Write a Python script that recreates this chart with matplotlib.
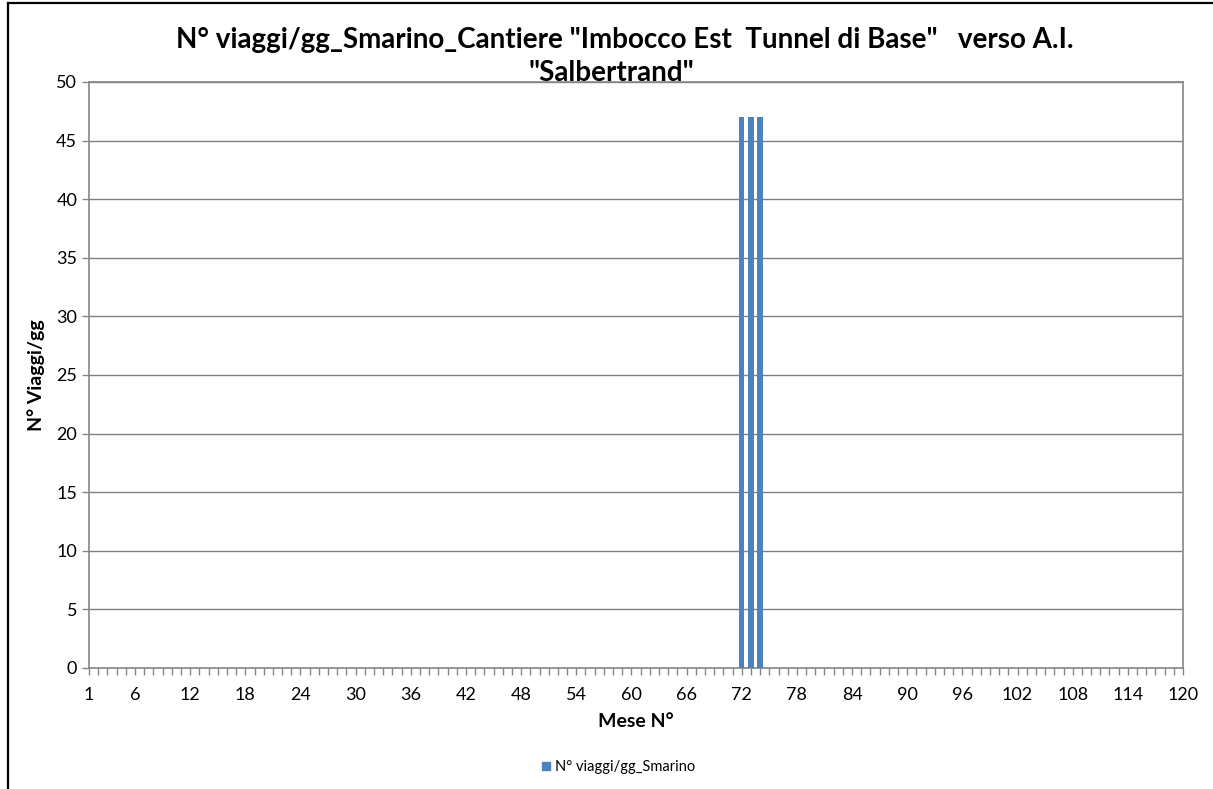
import matplotlib
matplotlib.use("Agg")
import matplotlib.pyplot as plt
from matplotlib.lines import Line2D
import numpy as np

plt.rcParams['font.family'] = ['Lato', 'DejaVu Sans']

months = list(range(1, 121))
values = [0] * 120
for m in (72, 73, 74):
    values[m - 1] = 47
tick_labels = [1] + list(range(6, 121, 6))
series_name = 'N° viaggi/gg_Smarino'
bar_color = '#4F81BD'

fig = plt.figure(figsize=(12.13, 7.89), dpi=100)
ax = fig.add_axes([0.0734, 0.1534, 0.9019, 0.7427])

ax.bar(months, values, width=0.58, color=bar_color, zorder=3)

ax.set_xlim(1, 120)
ax.set_ylim(0, 50)
ax.set_yticks(np.arange(0, 51, 5))
ax.set_xticks(months, minor=True)
ax.set_xticks(tick_labels)
ax.set_xticklabels([str(t) for t in tick_labels], fontsize=13)
ax.tick_params(axis='y', labelsize=13, length=5, color='#868686', width=1)
ax.tick_params(axis='x', which='both', length=5, color='#868686', width=1, pad=9)
ax.grid(axis='y', color='#808080', linewidth=1, zorder=0)

for s in ax.spines.values():
    s.set_color('#868686')
    s.set_linewidth(1.2)

ax.set_xlabel('Mese N°', fontsize=14, fontweight='bold', labelpad=7)
ax.set_ylabel('N° Viaggi/gg', fontsize=14, fontweight='bold', labelpad=8)

fig.text(0.515, 0.949, 'N° viaggi/gg_Smarino_Cantiere "Imbocco Est  Tunnel di Base"   verso A.I.',
         ha='center', va='center', fontsize=20, fontweight='bold')
fig.text(0.504, 0.907, '"Salbertrand"', ha='center', va='center', fontsize=20, fontweight='bold')

handle = Line2D([], [], linestyle='none', marker='s', markersize=6,
                markerfacecolor=bar_color, markeredgecolor=bar_color)
fig.legend(handles=[handle], labels=[series_name], loc='center',
           bbox_to_anchor=(0.51, 0.028), frameon=False, fontsize=10.5,
           handlelength=0.6, handletextpad=0.3)

# outer chart border (left and top visible)
fig.add_artist(Line2D([8/1213, 8/1213], [0, 1 - 3/789], transform=fig.transFigure, color='black', linewidth=1.6))
fig.add_artist(Line2D([8/1213, 1], [1 - 3/789, 1 - 3/789], transform=fig.transFigure, color='black', linewidth=1.6))

fig.savefig('out.png', dpi=100)
